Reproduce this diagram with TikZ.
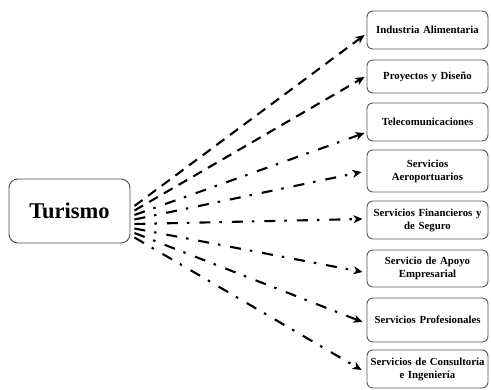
\documentclass[tikz,border=0pt]{standalone}
\usepackage{fontspec}
\setmainfont{Liberation Serif}
\usetikzlibrary{arrows.meta,calc}
\begin{document}
\begin{tikzpicture}[x=1pt,y=-1pt,
  sbox/.style={draw=black!65,line width=0.9pt,rounded corners=6pt,minimum width=121pt,
    text width=114pt,align=center,inner sep=1pt,font=\bfseries\fontsize{10.8}{13}\selectfont},
  conn/.style={line width=2.1pt,-{Stealth[length=9pt,width=8pt,inset=2.5pt]}},
  dsh/.style={conn,dash pattern=on 10pt off 7pt},
  ddt/.style={conn,dash pattern=on 11pt off 9pt on 2.5pt off 10pt}]
\useasboundingbox (0,0) rectangle (491,390);
\node[draw=black!70,line width=0.9pt,rounded corners=9pt,minimum width=121pt,minimum height=64pt,
  font=\bfseries\fontsize{22.5}{26}\selectfont] (tur) at (69.5,211) {Turismo};
\node[sbox,minimum height=38pt] (b1) at (427.5,30) {Industria Alimentaria};
\node[sbox,minimum height=33pt] (b2) at (427.5,76.5) {Proyectos y Diseño};
\node[sbox,minimum height=38pt] (b3) at (427.5,122) {Telecomunicaciones};
\node[sbox,minimum height=42pt] (b4) at (427.5,171) {Servicios\\Aeroportuarios};
\node[sbox,minimum height=38pt] (b5) at (427.5,220) {Servicios Financieros y\\de Seguro};
\node[sbox,minimum height=37pt] (b6) at (427.5,268.5) {Servicio de Apoyo\\Empresarial};
\node[sbox,minimum height=44pt] (b7) at (427.5,320) {Servicios Profesionales};
\node[sbox,minimum height=38pt] (b8) at (427.5,369) {Servicios de Consultoría\\e Ingeniería};
\draw[dsh] ($(tur.east)+(4,-5)$) -- ($(b1.west)+(-2,5)$);
\draw[dsh] ($(tur.east)+(4,-0.5)$) -- ($(b2.west)+(-2,0.5)$);
\draw[ddt] ($(tur.east)+(4,4)$) -- ($(b3.west)+(-2,11)$);
\draw[ddt] ($(tur.east)+(4,8.5)$) -- ($(b4.west)+(-5,1)$);
\draw[ddt] ($(tur.east)+(4,13)$) -- ($(b5.west)+(-4,-1)$);
\draw[ddt] ($(tur.east)+(4,17.5)$) -- ($(b6.west)+(-4,3.5)$);
\draw[ddt] ($(tur.east)+(4,22)$) -- ($(b7.west)+(-4,2)$);
\draw[ddt] ($(tur.east)+(4,26.5)$) -- ($(b8.west)+(-5,1)$);
\end{tikzpicture}
\end{document}
